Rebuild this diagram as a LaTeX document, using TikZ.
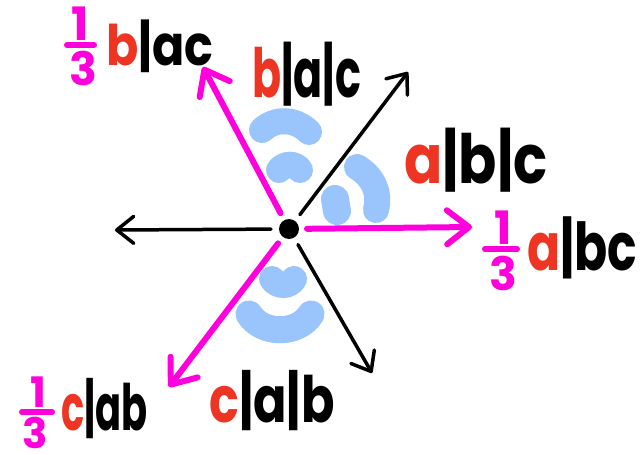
\documentclass[tikz,border=0pt]{standalone}
\usepackage{fontspec}
\setmainfont{Poppins}
\usetikzlibrary{arrows.meta}
\definecolor{mag}{RGB}{255,0,220}
\definecolor{redl}{RGB}{238,53,36}
\definecolor{blob}{RGB}{153,196,252}
\begin{document}
\begin{tikzpicture}[x=1pt,y=-1pt,
  magarrow/.style={draw=mag, line width=6pt, line cap=round, -{Straight Barb[length=22pt,width=34pt,round]}},
  blkarrow/.style={draw=black, line width=3.5pt, line cap=round, -{Straight Barb[length=17pt,width=27pt,round]}},
  blobstroke/.style={draw=blob, line width=26pt, line cap=round},
  lbl/.style={inner sep=0pt, anchor=base west},
  fracbar/.style={draw=mag, line width=6pt, line cap=round},
  frnum/.style={inner sep=0pt, anchor=south, text=mag, font=\fontsize{46}{46}\selectfont\bfseries},
  frden/.style={inner sep=0pt, anchor=north, text=mag, font=\fontsize{46}{46}\selectfont\bfseries}
]
\useasboundingbox (0,0) rectangle (640,455);
\fill[white] (0,0) rectangle (640,455);

% blue blobs
\draw[blobstroke] (262,130) .. controls (275,118) and (295,118) .. (309,132);
\draw[blobstroke] (279,170) .. controls (285,163) and (295,163) .. (300,170);
\draw[blobstroke] (357,167) .. controls (375,178) and (380,195) .. (376,210);
\draw[blobstroke, line width=28pt] (335,199) -- (337,211);
\draw[blobstroke] (272,279) .. controls (278,287) and (289,287) .. (294,279);
\draw[blobstroke, line width=27pt] (249,314) .. controls (262,335) and (298,335) .. (311,314);

% centre and arrows
\node[circle, fill=black, minimum size=20pt, inner sep=0pt, outer sep=8pt] (o) at (289,229) {};
\coordinate (tR) at (472,227);
\coordinate (tUL) at (203,67);
\coordinate (tLL) at (169,387);
\coordinate (tUR) at (408,72);
\coordinate (tL) at (115,230);
\coordinate (tLR) at (372,373);
\draw[blkarrow] (o) -- (tUR);
\draw[blkarrow] (o) -- (tL);
\draw[blkarrow] (o) -- (tLR);
\draw[magarrow] (o) -- (tR);
\draw[magarrow] (o) -- (tUL);
\draw[magarrow] (o) -- (tLL);

% labels
\node[lbl, font=\fontsize{56}{56}\selectfont\bfseries] (l1) at (106,65) {\scalebox{0.85}[1]{\textcolor{redl}{b}|ac}};
\node[lbl, font=\fontsize{68}{68}\selectfont\bfseries] (l2) at (252,97) {\scalebox{0.63}[1]{\textcolor{redl}{b}|a|c}};
\node[lbl, font=\fontsize{68}{68}\selectfont\bfseries] (l3) at (404,183) {\scalebox{0.83}[1]{\textcolor{redl}{a}|b|c}};
\node[lbl, font=\fontsize{66}{66}\selectfont\bfseries] (l4) at (527,270) {\scalebox{0.74}[1]{\textcolor{redl}{a}|bc}};
\node[lbl, font=\fontsize{64}{64}\selectfont\bfseries] (l5) at (61,430) {\scalebox{0.6}[1]{\textcolor{redl}{c}|ab}};
\node[lbl, font=\fontsize{64}{64}\selectfont\bfseries] (l6) at (209,422) {\scalebox{0.77}[1]{\textcolor{redl}{c}|a|b}};

% fractions
\draw[fracbar] (67,45) -- (94,45);
\node[frnum] (n1) at (80,41) {1};
\node[frden] (d1) at (83,51) {3};
\draw[fracbar] (485,249) -- (517,249);
\node[frnum] (n2) at (503,245) {1};
\node[frden] (d2) at (503,256) {3};
\draw[fracbar] (22,412) -- (52,412);
\node[frnum, font=\fontsize{42}{42}\selectfont\bfseries] (n3) at (38,408) {1};
\node[frden, font=\fontsize{42}{42}\selectfont\bfseries] (d3) at (35,417) {3};
\end{tikzpicture}
\end{document}
